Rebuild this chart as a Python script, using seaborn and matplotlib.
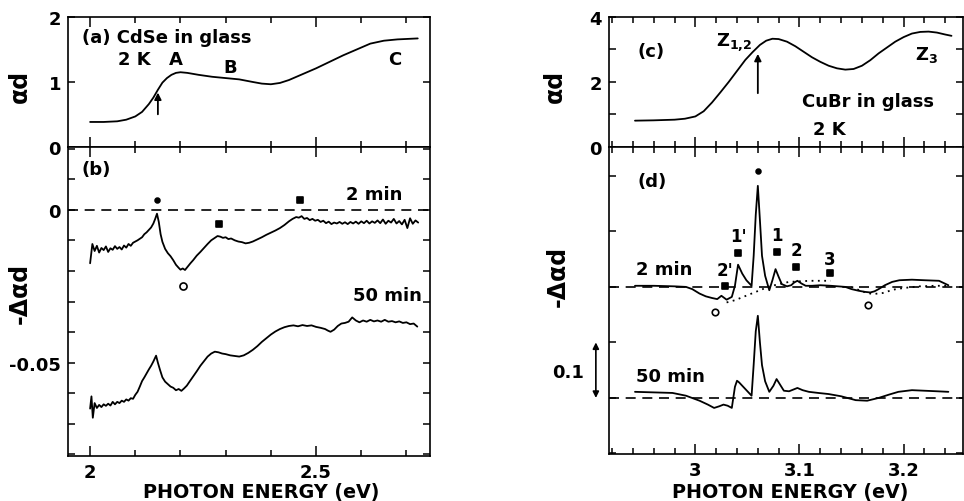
import matplotlib
matplotlib.use("Agg")
import matplotlib.pyplot as plt
import matplotlib.transforms as mtransforms
from matplotlib.ticker import FixedLocator, MultipleLocator, NullFormatter
import seaborn as sns

# ---------------- data ----------------
# (a) CdSe in glass, absorption alpha*d
a_energy = [2.000, 2.030, 2.060, 2.080, 2.100, 2.115, 2.130, 2.140, 2.150, 2.160,
            2.170, 2.180, 2.190, 2.200, 2.215, 2.240, 2.270, 2.300, 2.330, 2.360,
            2.380, 2.400, 2.420, 2.440, 2.460, 2.480, 2.500, 2.530, 2.560, 2.590,
            2.620, 2.650, 2.680, 2.710, 2.725]
a_alpha_d = [0.385, 0.385, 0.395, 0.420, 0.470, 0.540, 0.660, 0.760, 0.880, 0.990,
             1.060, 1.110, 1.140, 1.150, 1.140, 1.110, 1.080, 1.060, 1.040, 1.000,
             0.975, 0.965, 0.985, 1.030, 1.090, 1.150, 1.210, 1.310, 1.410, 1.500,
             1.590, 1.635, 1.655, 1.665, 1.670]

# (b) CdSe, differential absorption after 2 min
b2_energy = [2.000, 2.005, 2.010, 2.015, 2.020, 2.025, 2.030, 2.035, 2.040, 2.045,
             2.050, 2.055, 2.060, 2.065, 2.070, 2.075, 2.080, 2.085, 2.090, 2.095,
             2.100, 2.105, 2.110, 2.115, 2.120, 2.125, 2.130, 2.135, 2.140, 2.144,
             2.148, 2.152, 2.156, 2.160, 2.166, 2.172, 2.178, 2.184, 2.190, 2.196,
             2.200, 2.205, 2.210, 2.216, 2.222, 2.228, 2.236, 2.244, 2.252, 2.260,
             2.268, 2.276, 2.282, 2.288, 2.294, 2.300, 2.306, 2.312, 2.320, 2.328,
             2.336, 2.344, 2.352, 2.360, 2.370, 2.380, 2.390, 2.400, 2.410, 2.420,
             2.430, 2.440, 2.448, 2.456, 2.462, 2.468, 2.474, 2.480, 2.486, 2.492,
             2.498, 2.504, 2.510, 2.516, 2.522, 2.528, 2.534, 2.540, 2.546, 2.552,
             2.558, 2.564, 2.570, 2.576, 2.582, 2.588, 2.594, 2.600, 2.606, 2.612,
             2.618, 2.624, 2.630, 2.636, 2.642, 2.648, 2.654, 2.660, 2.666, 2.672,
             2.678, 2.684, 2.690, 2.696, 2.702, 2.708, 2.714, 2.720, 2.726]
b2_delta = [-0.0175, -0.0112, -0.0135, -0.0118, -0.0140, -0.0125, -0.0132, -0.0120, -0.0138, -0.0126,
            -0.0131, -0.0119, -0.0128, -0.0122, -0.0130, -0.0117, -0.0124, -0.0112, -0.0118, -0.0108,
            -0.0104, -0.0100, -0.0095, -0.0090, -0.0080, -0.0074, -0.0066, -0.0058, -0.0045, -0.0030,
            -0.0013, -0.0040, -0.0080, -0.0105, -0.0128, -0.0142, -0.0152, -0.0165, -0.0180, -0.0190,
            -0.0196, -0.0192, -0.0197, -0.0186, -0.0175, -0.0165, -0.0150, -0.0138, -0.0125, -0.0112,
            -0.0100, -0.0092, -0.0086, -0.0088, -0.0092, -0.0090, -0.0096, -0.0094, -0.0100, -0.0104,
            -0.0106, -0.0110, -0.0108, -0.0104, -0.0097, -0.0090, -0.0082, -0.0075, -0.0068, -0.0060,
            -0.0050, -0.0038, -0.0030, -0.0024, -0.0026, -0.0021, -0.0030, -0.0027, -0.0034, -0.0030,
            -0.0036, -0.0033, -0.0040, -0.0036, -0.0044, -0.0039, -0.0047, -0.0042, -0.0045, -0.0040,
            -0.0046, -0.0041, -0.0047, -0.0040, -0.0045, -0.0039, -0.0046, -0.0038, -0.0044, -0.0036,
            -0.0045, -0.0038, -0.0043, -0.0035, -0.0044, -0.0032, -0.0046, -0.0036, -0.0042, -0.0030,
            -0.0045, -0.0037, -0.0048, -0.0033, -0.0060, -0.0028, -0.0046, -0.0035, -0.0042]

# (b) CdSe, differential absorption after 50 min
b50_energy = [2.000, 2.003, 2.006, 2.010, 2.015, 2.020, 2.025, 2.030, 2.035, 2.040,
              2.045, 2.050, 2.055, 2.060, 2.065, 2.070, 2.075, 2.080, 2.085, 2.090,
              2.095, 2.100, 2.105, 2.110, 2.115, 2.120, 2.125, 2.130, 2.135, 2.140,
              2.146, 2.150, 2.155, 2.160, 2.166, 2.172, 2.178, 2.184, 2.190, 2.196,
              2.202, 2.208, 2.214, 2.220, 2.228, 2.236, 2.244, 2.252, 2.260, 2.268,
              2.276, 2.284, 2.292, 2.300, 2.310, 2.320, 2.330, 2.340, 2.350, 2.360,
              2.370, 2.380, 2.390, 2.400, 2.410, 2.420, 2.430, 2.440, 2.450, 2.460,
              2.470, 2.480, 2.490, 2.500, 2.510, 2.520, 2.526, 2.532, 2.540, 2.548,
              2.556, 2.564, 2.572, 2.580, 2.588, 2.596, 2.604, 2.612, 2.620, 2.628,
              2.636, 2.644, 2.652, 2.660, 2.668, 2.676, 2.684, 2.692, 2.700, 2.708,
              2.716, 2.724]
b50_delta = [-0.0650, -0.0610, -0.0680, -0.0632, -0.0648, -0.0638, -0.0645, -0.0636, -0.0641, -0.0634,
             -0.0640, -0.0628, -0.0636, -0.0628, -0.0632, -0.0624, -0.0628, -0.0620, -0.0624, -0.0616,
             -0.0618, -0.0605, -0.0595, -0.0578, -0.0560, -0.0548, -0.0535, -0.0522, -0.0510, -0.0496,
             -0.0477, -0.0500, -0.0525, -0.0548, -0.0562, -0.0570, -0.0578, -0.0582, -0.0590, -0.0586,
             -0.0592, -0.0584, -0.0575, -0.0562, -0.0545, -0.0528, -0.0510, -0.0495, -0.0480, -0.0470,
             -0.0464, -0.0466, -0.0470, -0.0472, -0.0476, -0.0478, -0.0480, -0.0476, -0.0468, -0.0458,
             -0.0446, -0.0432, -0.0420, -0.0408, -0.0398, -0.0390, -0.0384, -0.0380, -0.0378, -0.0381,
             -0.0377, -0.0380, -0.0378, -0.0383, -0.0386, -0.0390, -0.0395, -0.0399, -0.0392, -0.0380,
             -0.0372, -0.0370, -0.0366, -0.0352, -0.0362, -0.0368, -0.0362, -0.0366, -0.0360, -0.0365,
             -0.0362, -0.0366, -0.0360, -0.0366, -0.0364, -0.0368, -0.0365, -0.0370, -0.0368, -0.0374,
             -0.0372, -0.0382]

# (b) feature markers
b_dot = ([2.148], [0.0033])
b_open = ([2.205], [-0.0248])
b_square = ([2.285, 2.465], [-0.0046, 0.0033])

# (c) CuBr in glass, absorption alpha*d
c_energy = [2.942, 2.960, 2.980, 2.990, 3.000, 3.008, 3.016, 3.024, 3.032, 3.040,
            3.048, 3.055, 3.062, 3.068, 3.074, 3.080, 3.088, 3.096, 3.104, 3.112,
            3.120, 3.128, 3.136, 3.144, 3.152, 3.160, 3.168, 3.176, 3.184, 3.192,
            3.200, 3.208, 3.216, 3.224, 3.232, 3.240, 3.246]
c_alpha_d = [0.81, 0.82, 0.84, 0.87, 0.94, 1.10, 1.37, 1.68, 2.00, 2.34,
             2.68, 2.92, 3.14, 3.27, 3.33, 3.32, 3.24, 3.10, 2.93, 2.76,
             2.62, 2.50, 2.42, 2.38, 2.40, 2.50, 2.67, 2.88, 3.06, 3.24,
             3.38, 3.49, 3.54, 3.55, 3.52, 3.46, 3.42]

# (d) CuBr, differential absorption after 2 min
d2_energy = [2.942, 2.960, 2.980, 2.991, 2.997, 3.004, 3.010, 3.016, 3.021, 3.025,
             3.030, 3.035, 3.038, 3.041, 3.045, 3.049, 3.054, 3.056, 3.058, 3.060,
             3.062, 3.064, 3.067, 3.071, 3.074, 3.077, 3.080, 3.083, 3.088, 3.092,
             3.095, 3.098, 3.102, 3.106, 3.112, 3.120, 3.130, 3.144, 3.150, 3.157,
             3.163, 3.168, 3.172, 3.176, 3.182, 3.189, 3.196, 3.208, 3.220, 3.234,
             3.243]
d2_delta = [0.002, 0.002, 0.001, 0.000, -0.004, -0.012, -0.017, -0.020, -0.022, -0.016,
            -0.023, -0.018, 0.002, 0.040, 0.024, 0.012, 0.002, 0.056, 0.130, 0.182,
            0.120, 0.056, 0.020, -0.006, 0.012, 0.032, 0.018, 0.005, 0.001, 0.003,
            0.008, 0.011, 0.006, 0.002, 0.002, 0.003, 0.002, 0.000, -0.004, -0.007,
            -0.009, -0.010, -0.008, -0.004, 0.003, 0.009, 0.012, 0.013, 0.012, 0.011,
            0.003]

# (d) smooth background under the 2 min spectrum
bg1_energy = [3.030, 3.038, 3.046, 3.054, 3.062, 3.070, 3.080, 3.090, 3.100, 3.110, 3.120, 3.130]
bg1_delta = [-0.028, -0.024, -0.018, -0.012, -0.006, 0.000, 0.005, 0.009, 0.010, 0.011, 0.011, 0.011]
bg2_energy = [3.150, 3.160, 3.170, 3.180, 3.190, 3.200, 3.215, 3.230, 3.245]
bg2_delta = [0.000, -0.008, -0.013, -0.011, -0.005, -0.002, 0.001, 0.002, 0.002]

# (d) CuBr, differential absorption after 50 min (relative to its own baseline)
d50_energy = [2.942, 2.960, 2.978, 2.991, 3.004, 3.012, 3.018, 3.023, 3.027, 3.031,
              3.035, 3.038, 3.040, 3.042, 3.046, 3.050, 3.054, 3.056, 3.058, 3.060,
              3.062, 3.064, 3.067, 3.071, 3.075, 3.078, 3.082, 3.085, 3.090, 3.094,
              3.098, 3.103, 3.109, 3.118, 3.128, 3.140, 3.154, 3.165, 3.176, 3.186,
              3.195, 3.208, 3.220, 3.232, 3.243]
d50_delta = [0.011, 0.010, 0.009, 0.004, -0.005, -0.012, -0.018, -0.015, -0.012, -0.014,
             -0.018, 0.020, 0.031, 0.028, 0.020, 0.012, 0.004, 0.060, 0.120, 0.148,
             0.100, 0.059, 0.030, 0.011, 0.022, 0.034, 0.022, 0.013, 0.012, 0.015,
             0.018, 0.014, 0.011, 0.009, 0.007, 0.003, -0.004, -0.005, 0.000, 0.006,
             0.011, 0.014, 0.013, 0.012, 0.011]
d50_offset = -0.2

# (d) feature markers and their labels
d_dot = ([3.060], [0.209])
d_open = ([3.019, 3.166], [-0.045, -0.032])
d_square = ([3.028, 3.041, 3.078, 3.097, 3.129], [0.002, 0.061, 0.063, 0.036, 0.025])
d_square_labels = ["2'", "1'", "1", "2", "3"]
d_label_pos = [(3.028, 0.030), (3.041, 0.091), (3.078, 0.093), (3.097, 0.066), (3.129, 0.051)]

# ---------------- style ----------------
sns.set_theme(style="ticks")
plt.rcParams["font.family"] = ["DejaVu Sans"]
plt.rcParams.update({
    "font.weight": "bold",
    "axes.edgecolor": "black",
    "axes.linewidth": 1.2,
    "xtick.color": "black",
    "ytick.color": "black",
    "text.color": "black",
    "axes.labelcolor": "black",
    "mathtext.fontset": "custom",
    "mathtext.rm": "DejaVu Sans:bold",
    "mathtext.bf": "DejaVu Sans:bold",
    "mathtext.it": "DejaVu Sans:bold",
})

FS = 13
LW = 1.3
YLAB = 17
DASH = (0, (6, 4))

fig = plt.figure(figsize=(9.64, 5.02), dpi=100)
fig.patch.set_facecolor("white")
ax_a = fig.add_axes([0.0705, 0.7052, 0.3755, 0.2590])
ax_b = fig.add_axes([0.0705, 0.0896, 0.3755, 0.6156])
ax_c = fig.add_axes([0.6317, 0.7052, 0.3672, 0.2590])
ax_d = fig.add_axes([0.6317, 0.0936, 0.3672, 0.6116])

for ax in (ax_a, ax_b, ax_c, ax_d):
    ax.set_facecolor("white")
    for s in ax.spines.values():
        s.set_visible(True)
        s.set_linewidth(1.2)
    ax.tick_params(which="both", direction="in", top=True, right=True,
                   width=1.1, labelsize=FS, pad=5)
    ax.tick_params(which="major", length=7)
    ax.tick_params(which="minor", length=4)


def trace(ax, x, y, **kw):
    sns.lineplot(x=x, y=y, ax=ax, color="black", lw=LW, estimator=None, sort=False, **kw)


def marks(ax, pts, marker, size, filled=True):
    sns.scatterplot(x=pts[0], y=pts[1], ax=ax, marker=marker, s=size,
                    color="black" if filled else "white", edgecolor="black",
                    linewidth=1.2, zorder=5)


# ---------------- (a) ----------------
trace(ax_a, a_energy, a_alpha_d)
ax_a.set_xlim(1.951, 2.752)
ax_a.set_ylim(0, 2)
ax_a.xaxis.set_major_locator(FixedLocator([2.0, 2.5]))
ax_a.xaxis.set_minor_locator(MultipleLocator(0.1))
ax_a.tick_params(axis="x", labelbottom=False)
ax_a.yaxis.set_major_locator(FixedLocator([0, 1, 2]))
ax_a.set_yticklabels(["0", "1", "2"], fontweight="bold")
ax_a.tick_params(axis="y", which="major", length=5)
ax_a.annotate("", xy=(2.150, 0.88), xytext=(2.150, 0.46),
              arrowprops=dict(arrowstyle="-|>", lw=1.3, color="black", mutation_scale=10))
ax_a.text(1.982, 1.69, "(a) CdSe in glass", fontsize=FS, fontweight="bold", va="center")
ax_a.text(2.097, 1.35, "2 K", fontsize=FS, fontweight="bold", ha="center", va="center")
ax_a.text(2.190, 1.35, "A", fontsize=FS, fontweight="bold", ha="center", va="center")
ax_a.text(2.310, 1.23, "B", fontsize=FS, fontweight="bold", ha="center", va="center")
ax_a.text(2.675, 1.35, "C", fontsize=FS, fontweight="bold", ha="center", va="center")
ax_a.set_ylabel("αd", fontsize=YLAB, fontweight="bold")
ax_a.yaxis.set_label_coords(-0.10, 0.47)

# ---------------- (b) ----------------
ax_b.axhline(0, color="black", lw=1.2, ls=DASH)
trace(ax_b, b2_energy, b2_delta)
trace(ax_b, b50_energy, b50_delta)
marks(ax_b, b_dot, "o", 12)
marks(ax_b, b_open, "o", 26, filled=False)
marks(ax_b, b_square, "s", 18)
ax_b.set_xlim(1.951, 2.752)
ax_b.set_ylim(-0.0805, 0.0205)
ax_b.xaxis.set_major_locator(FixedLocator([2.0, 2.5]))
ax_b.set_xticklabels(["2", "2.5"], fontweight="bold")
ax_b.xaxis.set_minor_locator(MultipleLocator(0.1))
ax_b.yaxis.set_major_locator(FixedLocator([-0.05, 0]))
ax_b.set_yticklabels(["-0.05", "0"], fontweight="bold")
ax_b.yaxis.set_minor_locator(MultipleLocator(0.01))
ax_b.tick_params(axis="y", which="both", length=5)
ax_b.text(1.982, 0.0134, "(b)", fontsize=FS, fontweight="bold", va="center")
ax_b.text(2.692, 0.0052, "2 min", fontsize=FS, fontweight="bold", ha="right", va="center")
ax_b.text(2.735, -0.028, "50 min", fontsize=FS, fontweight="bold", ha="right", va="center")
ax_b.set_ylabel("-Δαd", fontsize=YLAB, fontweight="bold")
ax_b.yaxis.set_label_coords(-0.10, 0.53)
ax_b.set_xlabel("PHOTON ENERGY (eV)", fontsize=13.8, fontweight="bold")
ax_b.xaxis.set_label_coords(0.534, -0.085)

# ---------------- (c) ----------------
trace(ax_c, c_energy, c_alpha_d)
ax_c.set_xlim(2.917, 3.257)
ax_c.set_ylim(0, 4)
ax_c.xaxis.set_major_locator(FixedLocator([3.0, 3.1, 3.2]))
ax_c.xaxis.set_minor_locator(MultipleLocator(0.02))
ax_c.tick_params(axis="x", labelbottom=False)
ax_c.yaxis.set_major_locator(FixedLocator([0, 2, 4]))
ax_c.set_yticklabels(["0", "2", "4"], fontweight="bold")
ax_c.yaxis.set_minor_locator(FixedLocator([1, 3]))
ax_c.tick_params(axis="y", which="both", length=5)
ax_c.annotate("", xy=(3.060, 2.95), xytext=(3.060, 1.57),
              arrowprops=dict(arrowstyle="-|>", lw=1.3, color="black", mutation_scale=10))
ax_c.text(2.944, 2.95, "(c)", fontsize=FS, fontweight="bold", va="center")
ax_c.text(3.037, 3.27, r"Z$_{1{,}2}$", fontsize=FS, fontweight="bold", ha="center", va="center")
ax_c.text(3.222, 2.86, r"Z$_3$", fontsize=FS, fontweight="bold", ha="center", va="center")
ax_c.text(3.102, 1.42, "CuBr in glass", fontsize=FS, fontweight="bold", va="center")
ax_c.text(3.129, 0.55, "2 K", fontsize=FS, fontweight="bold", ha="center", va="center")
ax_c.set_ylabel("αd", fontsize=YLAB, fontweight="bold")
ax_c.yaxis.set_label_coords(-0.118, 0.47)

# ---------------- (d) ----------------
ax_d.axhline(0, color="black", lw=1.2, ls=DASH)
ax_d.axhline(d50_offset, color="black", lw=1.2, ls=DASH)
trace(ax_d, bg1_energy, bg1_delta, linestyle=(0, (1, 2.5)))
trace(ax_d, bg2_energy, bg2_delta, linestyle=(0, (1, 2.5)))
trace(ax_d, d2_energy, d2_delta)
trace(ax_d, d50_energy, [v + d50_offset for v in d50_delta])
marks(ax_d, d_dot, "o", 12)
marks(ax_d, d_open, "o", 22, filled=False)
marks(ax_d, d_square, "s", 14)
for lab, (xx, yy) in zip(d_square_labels, d_label_pos):
    ax_d.text(xx, yy, lab, fontsize=12, fontweight="bold", ha="center", va="center")
ax_d.set_xlim(2.917, 3.257)
ax_d.set_ylim(-0.301, 0.252)
ax_d.xaxis.set_major_locator(FixedLocator([3.0, 3.1, 3.2]))
ax_d.set_xticklabels(["3", "3.1", "3.2"], fontweight="bold")
ax_d.xaxis.set_minor_locator(MultipleLocator(0.02))
ax_d.yaxis.set_major_locator(MultipleLocator(0.1))
ax_d.yaxis.set_major_formatter(NullFormatter())
ax_d.tick_params(axis="y", which="both", length=5)
ax_d.text(2.944, 0.190, "(d)", fontsize=FS, fontweight="bold", va="center")
ax_d.text(2.943, 0.032, "2 min", fontsize=FS, fontweight="bold", va="center")
ax_d.text(2.943, -0.160, "50 min", fontsize=FS, fontweight="bold", va="center")
ax_d.set_ylabel("-Δαd", fontsize=YLAB, fontweight="bold")
ax_d.yaxis.set_label_coords(-0.11, 0.583)
ax_d.set_xlabel("PHOTON ENERGY (eV)", fontsize=13.8, fontweight="bold")
ax_d.xaxis.set_label_coords(0.511, -0.09)

# scale bar for the differential spectra
bar = mtransforms.blended_transform_factory(ax_d.transAxes, ax_d.transData)
ax_d.annotate("", xy=(-0.037, d50_offset), xytext=(-0.037, d50_offset + 0.1),
              xycoords=bar, textcoords=bar, annotation_clip=False,
              arrowprops=dict(arrowstyle="<|-|>", lw=1.2, color="black", mutation_scale=9,
                              shrinkA=0, shrinkB=0))
ax_d.text(-0.116, -0.153, "0.1", transform=bar, fontsize=FS, fontweight="bold",
          ha="center", va="center", clip_on=False)

fig.savefig("out.png", dpi=100, facecolor="white")
